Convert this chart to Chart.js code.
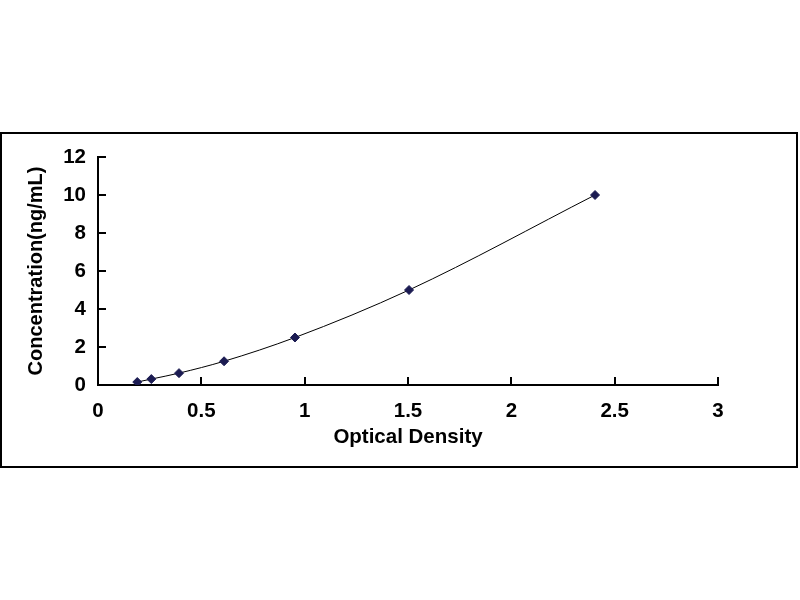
<!DOCTYPE html>
<html>
<head>
<meta charset="utf-8">
<script src="https://cdn.jsdelivr.net/npm/chart.js@4/dist/chart.umd.min.js"></script>
<style>
  html, body { margin: 0; padding: 0; background: #fff; }
  #frame { position: absolute; left: 0; top: 132px; width: 794px; height: 332px; border: 2px solid #000; }
  #wrap { position: absolute; left: 0; top: 0; width: 800px; height: 600px; }
</style>
</head>
<body>
<div id="frame"></div>
<div id="wrap"><canvas id="c" width="800" height="600"></canvas></div>
<script>
const opticalDensity = [0.190, 0.258, 0.392, 0.610, 0.953, 1.505, 2.405];
const concentration = [0.156, 0.312, 0.625, 1.25, 2.5, 5, 10];
const xTitle = 'Optical Density';
const yTitle = 'Concentration(ng/mL)';

const points = opticalDensity.map((x, i) => ({ x: x, y: concentration[i] }));
const FONT = 'Liberation Sans, Arial, sans-serif';
const fmt = v => String(Number(v));

new Chart(document.getElementById('c'), {
  type: 'scatter',
  data: {
    datasets: [{
      data: points,
      showLine: true,
      borderColor: '#000000',
      borderWidth: 1,
      cubicInterpolationMode: 'monotone',
      pointStyle: 'rectRot',
      pointRadius: 4.5,
      pointBackgroundColor: '#1b1b52',
      pointBorderColor: '#1b1b52',
      pointBorderWidth: 1
    }]
  },
  options: {
    responsive: false,
    animation: false,
    devicePixelRatio: 1,
    layout: { padding: { left: 0, top: 157, right: 82, bottom: 145 } },
    plugins: { legend: { display: false }, tooltip: { enabled: false } },
    scales: {
      x: {
        type: 'linear',
        min: 0, max: 3,
        ticks: { stepSize: 0.5, color: '#000', padding: 22, callback: fmt, font: { family: FONT, size: 20.5, weight: 'bold' } },
        grid: { drawOnChartArea: false, drawTicks: true, tickLength: -8, color: '#000', lineWidth: 2 },
        border: { display: true, color: '#000', width: 2 },
        title: { display: true, text: xTitle, color: '#000', padding: { top: 0, bottom: 5 }, font: { family: FONT, size: 20.5, weight: 'bold' } },
        afterFit: s => { s.height = 70; }
      },
      y: {
        type: 'linear',
        min: 0, max: 12,
        ticks: { stepSize: 2, color: '#000', padding: 20, callback: fmt, font: { family: FONT, size: 20.5, weight: 'bold' } },
        grid: { drawOnChartArea: false, drawTicks: true, tickLength: -8, color: '#000', lineWidth: 2 },
        border: { display: true, color: '#000', width: 2 },
        title: { display: true, text: yTitle, color: '#000', padding: { top: 24, bottom: 0 }, font: { family: FONT, size: 20, weight: 'bold' } },
        afterFit: s => { s.width = 98; }
      }
    }
  }
});
</script>
</body>
</html>
